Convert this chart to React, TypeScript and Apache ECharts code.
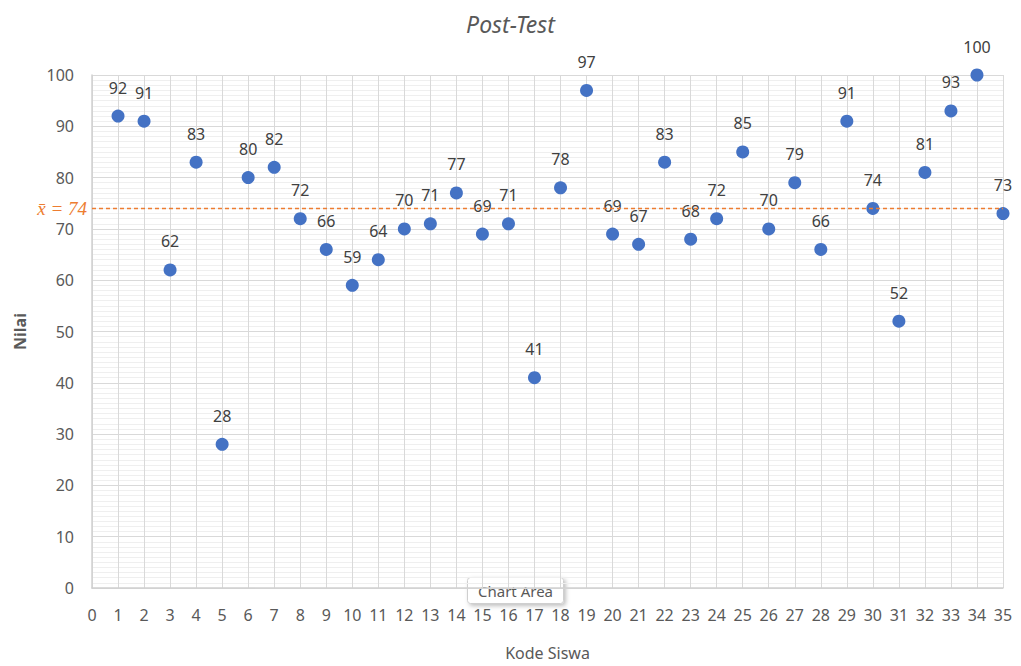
import React, { useEffect, useRef } from "react";
import * as echarts from "echarts";

const studentCodes = [1, 2, 3, 4, 5, 6, 7, 8, 9, 10, 11, 12, 13, 14, 15, 16, 17, 18, 19, 20, 21, 22, 23, 24, 25, 26, 27, 28, 29, 30, 31, 32, 33, 34, 35];
const scores = [92, 91, 62, 83, 28, 80, 82, 72, 66, 59, 64, 70, 71, 77, 69, 71, 41, 78, 97, 69, 67, 83, 68, 72, 85, 70, 79, 66, 91, 74, 52, 81, 93, 100, 73];
const meanValue = 74;
const meanLabel = "x\u0304 = 74";
const titleText = "Post-Test";
const xAxisName = "Kode Siswa";
const yAxisName = "Nilai";
const tooltipText = "Chart Area";

export default function App() {
  const ref = useRef<HTMLDivElement>(null);
  useEffect(() => {
    document.body.style.margin = "0";
    const chart = echarts.init(ref.current!, null, { renderer: "svg" });
    const font = "'Noto Sans', 'Open Sans', sans-serif";
    const points = studentCodes.map((c, i) => [c, scores[i]]);
    chart.setOption({
      animation: false,
      backgroundColor: "#ffffff",
      title: {
        text: titleText,
        left: "center",
        top: 7,
        textStyle: { fontFamily: font, fontSize: 23, fontStyle: "italic", fontWeight: "normal", color: "#595959" },
      },
      grid: { left: 92, right: 18, top: 75, height: 516, containLabel: false },
      xAxis: {
        type: "value",
        min: 0,
        max: 35,
        interval: 1,
        name: xAxisName,
        nameLocation: "middle",
        nameGap: 57,
        nameTextStyle: { fontFamily: font, fontSize: 16, color: "#595959" },
        axisLine: { show: true, lineStyle: { color: "#d0d0d0", width: 1.5 } },
        axisTick: { show: false },
        axisLabel: { fontFamily: font, fontSize: 16, color: "#595959", margin: 19 },
        splitLine: { show: true, lineStyle: { color: "#d9d9d9", width: 1 } },
      },
      yAxis: {
        type: "value",
        min: 0,
        max: 100,
        interval: 10,
        name: yAxisName,
        nameLocation: "middle",
        nameGap: 64,
        nameTextStyle: { fontFamily: font, fontSize: 16, color: "#595959", fontWeight: "bold" },
        axisLine: { show: true, lineStyle: { color: "#d0d0d0", width: 1.5 } },
        axisTick: { show: false },
        axisLabel: { fontFamily: font, fontSize: 16, color: "#595959", margin: 18 },
        splitLine: { show: true, lineStyle: { color: "#d9d9d9", width: 1 } },
        minorTick: { show: false, splitNumber: 10 },
        minorSplitLine: { show: true, lineStyle: { color: "#efefef", width: 1 } },
      },
      series: [
        {
          type: "scatter",
          data: points,
          symbol: "circle",
          symbolSize: 13,
          itemStyle: { color: "#4472C4", opacity: 1 },
          label: {
            show: true,
            position: "top",
            distance: 14,
            formatter: (p: any) => String(p.value[1]),
            fontFamily: font,
            fontSize: 16,
            color: "#404040",
          },
          markLine: {
            silent: true,
            symbol: "none",
            data: [{ yAxis: meanValue }],
            lineStyle: { color: "#ED7D31", type: [4, 3], width: 1.3 },
            label: {
              show: true,
              position: "start",
              distance: 5,
              formatter: meanLabel,
              fontFamily: "'Liberation Serif', serif",
              fontStyle: "italic",
              fontSize: 19,
              color: "#ED7D31",
            },
          },
        },
      ],
      graphic: [
        {
          type: "group",
          left: 467,
          top: 577,
          children: [
            {
              type: "rect",
              shape: { x: 0, y: 0, width: 96, height: 26, r: 3 },
              style: { fill: "#ffffff", stroke: "#cfcfcf", lineWidth: 1, shadowBlur: 4, shadowOffsetX: 2, shadowOffsetY: 2, shadowColor: "rgba(0,0,0,0.25)" },
            },
            {
              type: "text",
              x: 48,
              y: 13,
              style: { text: tooltipText, fontFamily: font, fontSize: 15, fill: "#595959", align: "center", verticalAlign: "middle" },
            },
          ],
        },
      ],
    });
    return () => chart.dispose();
  }, []);
  return <div ref={ref} style={{ width: 1021, height: 666 }} />;
}
